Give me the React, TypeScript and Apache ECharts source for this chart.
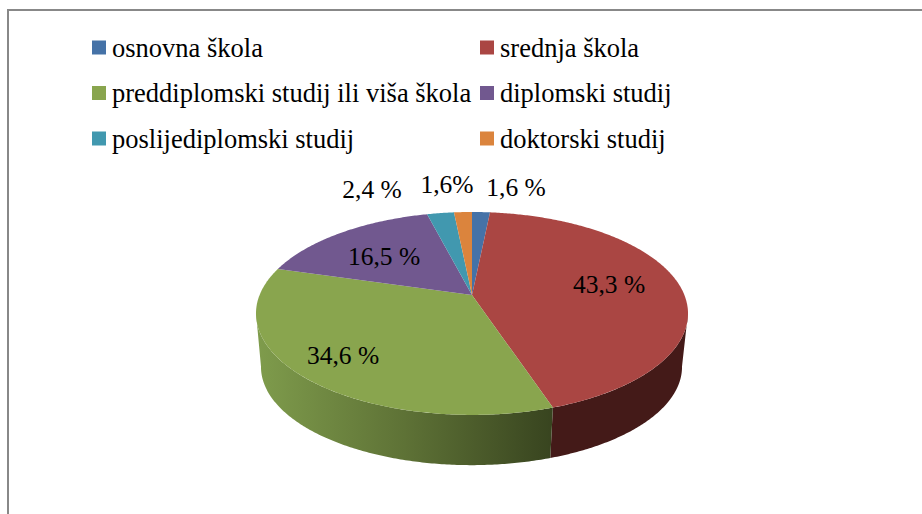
import React, { useEffect, useRef } from "react";
import * as echarts from "echarts";

const categories = [
  "osnovna škola",
  "srednja škola",
  "preddiplomski studij ili viša škola",
  "diplomski studij",
  "poslijediplomski studij",
  "doktorski studij",
];
const values = [1.6, 43.3, 34.6, 16.5, 2.4, 1.6];
const valueLabels = ["1,6 %", "43,3 %", "34,6 %", "16,5 %", "2,4 %", "1,6%"];

const colors = ["#4572A7", "#AA4643", "#89A54E", "#71588F", "#4198AF", "#DB843D"];
const labelAnchors = [
  [516, 187],
  [609, 284],
  [343, 355],
  [384, 256],
  [372, 189],
  [447, 184],
];
const FONT = "'Liberation Serif', serif";

const TOP = { cx: 472, cy: 295, a: 212.4, b: 98.1, p: 0.182 };
const BOTTOM = { cx: 471.5, cy: 349, a: 207, b: 95, p: 0.182 };

function project(f: typeof TOP, theta: number): [number, number] {
  const u = Math.sin(theta);
  const v = -Math.cos(theta);
  const d = 1 - f.p * v;
  return [f.cx + (f.a * u) / d, f.cy + (f.b * v) / d];
}

function arc(f: typeof TOP, t0: number, t1: number, step = 0.01): number[][] {
  const n = Math.max(2, Math.ceil((t1 - t0) / step));
  const pts: number[][] = [];
  for (let i = 0; i <= n; i++) pts.push(project(f, t0 + ((t1 - t0) * i) / n));
  return pts;
}

function sideFill(i: number, base: string): any {
  if (i === 2) {
    return {
      type: "linear",
      x: 0,
      y: 0,
      x2: 1,
      y2: 0,
      colorStops: [
        { offset: 0, color: "#7F9C4C" },
        { offset: 0.5, color: "#5E7236" },
        { offset: 1, color: "#38441F" },
      ],
    };
  }
  return i === 1 ? "#441A18" : base;
}

const FRONT_LIMIT = 0.178;

function makeSeries(index: number, start: number) {
  return {
    type: "custom",
    name: categories[index],
    coordinateSystem: "none",
    data: [[values[index], start]],
    itemStyle: { color: colors[index] },
    silent: true,
    renderItem: (_: any, api: any) => {
      const t0 = (api.value(1) / 100) * Math.PI * 2;
      const t1 = t0 + (api.value(0) / 100) * Math.PI * 2;
      const children: any[] = [];

      // front wall: only the part of the arc that faces the viewer
      const tLim = Math.acos(-FRONT_LIMIT);
      const fa = Math.max(t0, tLim);
      const fb = Math.min(t1, Math.PI * 2 - tLim);
      if (fb > fa) {
        const pts = [...arc(TOP, fa, fb), ...arc(BOTTOM, fa, fb).reverse()];
        children.push({
          type: "polygon",
          shape: { points: pts },
          style: { fill: sideFill(index, colors[index]) },
        });
      }
      // top face
      children.push({
        type: "polygon",
        shape: { points: [[TOP.cx, TOP.cy], ...arc(TOP, t0, t1)] },
        style: { fill: colors[index] },
      });
      return { type: "group", children };
    },
  };
}

function makeLabelSeries() {
  return {
    type: "custom",
    coordinateSystem: "none",
    silent: true,
    data: values.map((_, i) => [i]),
    z: 5,
    renderItem: (_: any, api: any) => {
      const i = api.value(0);
      return {
        type: "text",
        x: labelAnchors[i][0],
        y: labelAnchors[i][1],
        style: {
          text: valueLabels[i],
          font: `25.5px ${FONT}`,
          fill: "#000",
          align: "center",
          verticalAlign: "middle",
        },
      };
    },
  };
}

function makeLegend(names: string[], left: number) {
  return {
    orient: "vertical",
    left,
    top: 34,
    padding: 0,
    itemWidth: 14,
    itemHeight: 14,
    itemGap: 18.5,
    selectedMode: false,
    textStyle: { fontFamily: FONT, fontSize: 26.5, color: "#000", padding: [0, 0, 0, 1] },
    data: names.map((name) => ({
      name,
      icon: "rect",
      itemStyle: { color: colors[categories.indexOf(name)] },
    })),
  };
}

export default function App() {
  const ref = useRef<HTMLDivElement>(null);
  useEffect(() => {
    document.body.style.margin = "0";
    const chart = echarts.init(ref.current!, undefined, { renderer: "svg" });
    let acc = 0;
    const series: any[] = values.map((v, i) => {
      const s = makeSeries(i, acc);
      acc += v;
      return s;
    });
    series.push(makeLabelSeries());
    chart.setOption({
      animation: false,
      backgroundColor: "#fff",
      legend: [
        makeLegend([categories[0], categories[2], categories[4]], 92),
        makeLegend([categories[1], categories[3], categories[5]], 480),
      ],
      graphic: [
        { type: "line", shape: { x1: 8, y1: 10, x2: 922, y2: 10 }, style: { stroke: "#888", lineWidth: 2 } },
        { type: "line", shape: { x1: 8, y1: 9, x2: 8, y2: 514 }, style: { stroke: "#888", lineWidth: 2 } },
      ],
      series,
    });
    return () => chart.dispose();
  }, []);
  return <div ref={ref} style={{ width: 922, height: 514 }} />;
}
